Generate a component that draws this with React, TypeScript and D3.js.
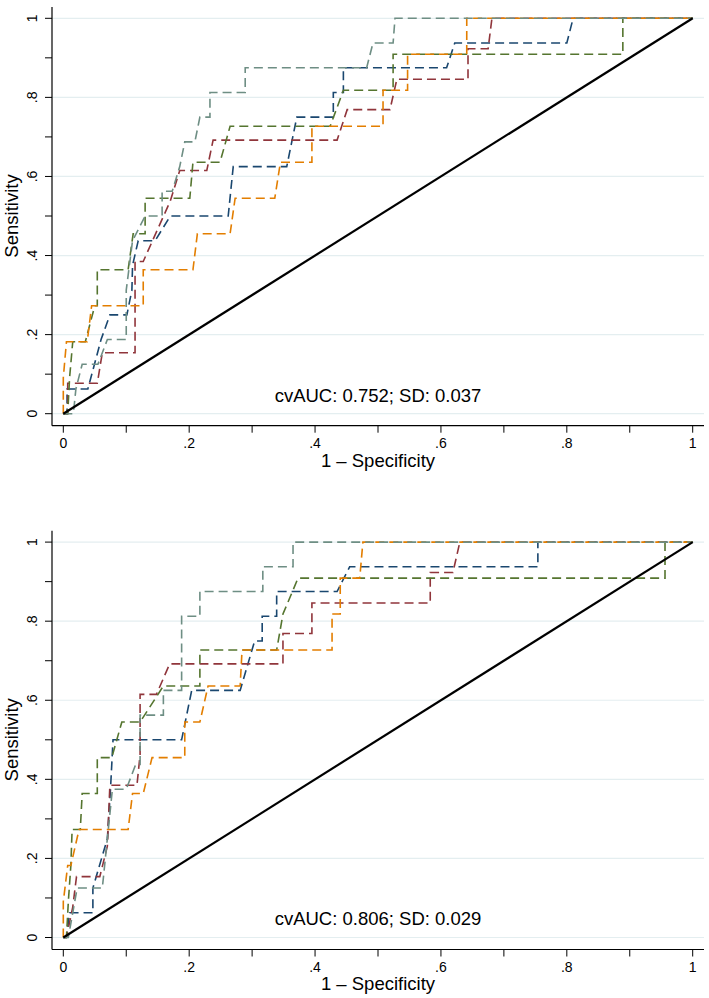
import React from "react";
import * as d3 from "d3";

type Pt = [number, number];

// ---------- DATA (1 - specificity, sensitivity) ----------
const topNavy: Pt[] = [[0,0],[0.006,0],[0.006,0.0625],[0.039,0.0625],[0.06,0.1875],[0.074,0.25],[0.101,0.25],[0.109,0.3125],[0.11,0.375],[0.119,0.4375],[0.146,0.4375],[0.17,0.5],[0.262,0.5],[0.27,0.625],[0.355,0.625],[0.371,0.75],[0.429,0.75],[0.429,0.8125],[0.445,0.8125],[0.445,0.875],[0.609,0.875],[0.622,0.9375],[0.8,0.9375],[0.81,1],[1,1]];
const topMaroon: Pt[] = [[0,0],[0.007,0],[0.007,0.077],[0.054,0.077],[0.062,0.154],[0.114,0.154],[0.114,0.385],[0.127,0.385],[0.17,0.538],[0.185,0.615],[0.228,0.615],[0.238,0.692],[0.435,0.692],[0.451,0.769],[0.519,0.769],[0.53,0.846],[0.643,0.846],[0.643,0.923],[0.675,0.923],[0.681,1],[1,1]];
const topGreen: Pt[] = [[0,0],[0.007,0],[0.01,0.091],[0.015,0.182],[0.035,0.182],[0.05,0.273],[0.054,0.273],[0.054,0.364],[0.103,0.364],[0.111,0.455],[0.13,0.455],[0.13,0.545],[0.201,0.545],[0.206,0.636],[0.249,0.636],[0.265,0.727],[0.424,0.727],[0.445,0.818],[0.524,0.818],[0.524,0.909],[0.889,0.909],[0.889,1],[1,1]];
const topOrange: Pt[] = [[0,0],[0,0.091],[0.005,0.182],[0.038,0.182],[0.045,0.273],[0.127,0.273],[0.127,0.364],[0.206,0.364],[0.213,0.455],[0.265,0.455],[0.273,0.545],[0.336,0.545],[0.345,0.636],[0.395,0.636],[0.395,0.727],[0.508,0.727],[0.508,0.818],[0.547,0.818],[0.547,0.909],[0.641,0.909],[0.641,1],[1,1]];
const topTeal: Pt[] = [[0,0],[0.016,0],[0.02,0.0625],[0.03,0.125],[0.055,0.125],[0.07,0.1875],[0.1,0.1875],[0.1,0.3125],[0.11,0.4375],[0.13,0.5],[0.157,0.5],[0.157,0.5625],[0.173,0.5625],[0.185,0.625],[0.193,0.6875],[0.209,0.6875],[0.217,0.75],[0.233,0.75],[0.233,0.8125],[0.289,0.8125],[0.289,0.875],[0.482,0.875],[0.492,0.9375],[0.524,0.9375],[0.527,1],[1,1]];

const botNavy: Pt[] = [[0,0],[0.005,0],[0.01,0.0625],[0.047,0.0625],[0.047,0.125],[0.07,0.25],[0.075,0.375],[0.079,0.5],[0.188,0.5],[0.204,0.625],[0.281,0.625],[0.304,0.75],[0.316,0.75],[0.316,0.8125],[0.339,0.8125],[0.339,0.875],[0.435,0.875],[0.455,0.9375],[0.754,0.9375],[0.754,1],[1,1]];
const botMaroon: Pt[] = [[0,0],[0.005,0],[0.015,0.077],[0.021,0.154],[0.058,0.154],[0.07,0.231],[0.074,0.385],[0.117,0.385],[0.122,0.462],[0.122,0.615],[0.148,0.615],[0.169,0.692],[0.349,0.692],[0.349,0.769],[0.395,0.769],[0.395,0.846],[0.583,0.846],[0.583,0.923],[0.619,0.923],[0.63,1],[1,1]];
const botGreen: Pt[] = [[0,0],[0.005,0],[0.008,0.091],[0.012,0.182],[0.014,0.273],[0.027,0.273],[0.03,0.364],[0.054,0.364],[0.054,0.455],[0.077,0.455],[0.093,0.545],[0.122,0.545],[0.159,0.636],[0.217,0.636],[0.217,0.727],[0.339,0.727],[0.349,0.818],[0.373,0.909],[0.956,0.909],[0.956,1],[1,1]];
const botOrange: Pt[] = [[0,0],[0,0.091],[0.007,0.182],[0.012,0.182],[0.025,0.273],[0.103,0.273],[0.11,0.364],[0.127,0.364],[0.141,0.455],[0.193,0.455],[0.193,0.545],[0.217,0.545],[0.23,0.636],[0.281,0.636],[0.284,0.727],[0.427,0.727],[0.427,0.818],[0.44,0.818],[0.44,0.909],[0.471,0.909],[0.476,1],[1,1]];
const botTeal: Pt[] = [[0,0],[0.008,0],[0.015,0.0625],[0.022,0.125],[0.062,0.125],[0.07,0.25],[0.078,0.375],[0.1,0.375],[0.115,0.4375],[0.122,0.4375],[0.122,0.5625],[0.159,0.5625],[0.159,0.625],[0.188,0.625],[0.188,0.8125],[0.217,0.8125],[0.217,0.875],[0.317,0.875],[0.317,0.9375],[0.365,0.9375],[0.365,1],[1,1]];

const diagonal: Pt[] = [[0,0],[1,1]];
const tickValues = [0,0.1,0.2,0.3,0.4,0.5,0.6,0.7,0.8,0.9,1];
const labelValues = [0,0.2,0.4,0.6,0.8,1];
const tickLabels = ["0",".2",".4",".6",".8","1"];
const seriesColors = ["#1a476f","#90353b","#55752f","#e37e00","#6e8e84"];

const panels = [
  { series: [topNavy, topMaroon, topGreen, topOrange, topTeal], note: "cvAUC: 0.752; SD: 0.037" },
  { series: [botNavy, botMaroon, botGreen, botOrange, botTeal], note: "cvAUC: 0.806; SD: 0.029" },
];

const FONT = "'Liberation Sans', Arial, Helvetica, sans-serif";

function Panel({ series, note, dy }: { series: Pt[][]; note: string; dy: number }) {
  const x = d3.scaleLinear().domain([0, 1]).range([63.3, 692.7]);
  const y = d3.scaleLinear().domain([0, 1]).range([413.7, 18.3]);
  const line = d3.line<Pt>().x(d => x(d[0])).y(d => y(d[1]));
  const axisX = 52, axisY = 425.7, right = 704, top = 7;
  return (
    <g transform={`translate(0,${dy})`}>
      {labelValues.map(v => (
        <line key={"g" + v} x1={axisX} x2={right} y1={y(v)} y2={y(v)} stroke="#e4eef0" strokeWidth={1.2} />
      ))}
      {series.map((s, i) => (
        <path key={i} d={line(s) || ""} fill="none" stroke={seriesColors[i]} strokeWidth={1.6} strokeDasharray="9 5" />
      ))}
      <path d={line(diagonal) || ""} fill="none" stroke="#000" strokeWidth={2.2} />
      <line x1={axisX} x2={axisX} y1={top} y2={axisY} stroke="#000" strokeWidth={1.2} />
      <line x1={axisX} x2={right} y1={axisY} y2={axisY} stroke="#000" strokeWidth={1.2} />
      {tickValues.map(v => (
        <line key={"yt" + v} x1={axisX - 7} x2={axisX} y1={y(v)} y2={y(v)} stroke="#000" strokeWidth={1} />
      ))}
      {tickValues.map(v => (
        <line key={"xt" + v} x1={x(v)} x2={x(v)} y1={axisY} y2={axisY + 7} stroke="#000" strokeWidth={1} />
      ))}
      {labelValues.map((v, i) => (
        <text key={"yl" + v} transform={`translate(37,${y(v)}) rotate(-90)`} textAnchor="middle" fontSize={14} fontFamily={FONT}>{tickLabels[i]}</text>
      ))}
      {labelValues.map((v, i) => (
        <text key={"xl" + v} x={x(v)} y={448.3} textAnchor="middle" fontSize={14} fontFamily={FONT}>{tickLabels[i]}</text>
      ))}
      <text x={378} y={466.7} textAnchor="middle" fontSize={18.5} fontFamily={FONT}>1 – Specificity</text>
      <text transform={`translate(18,${(y(0) + y(1)) / 2}) rotate(-90)`} textAnchor="middle" fontSize={18.5} fontFamily={FONT}>Sensitivity</text>
      <text x={378} y={401.7} textAnchor="middle" fontSize={18.5} fontFamily={FONT}>{note}</text>
    </g>
  );
}

export default function App() {
  return (
    <svg width={709} height={998} style={{ position: "absolute", left: 0, top: 0, background: "#fff" }}>
      <rect width={709} height={998} fill="#fff" />
      {panels.map((p, i) => (
        <Panel key={i} series={p.series} note={p.note} dy={i * 523.8} />
      ))}
    </svg>
  );
}
